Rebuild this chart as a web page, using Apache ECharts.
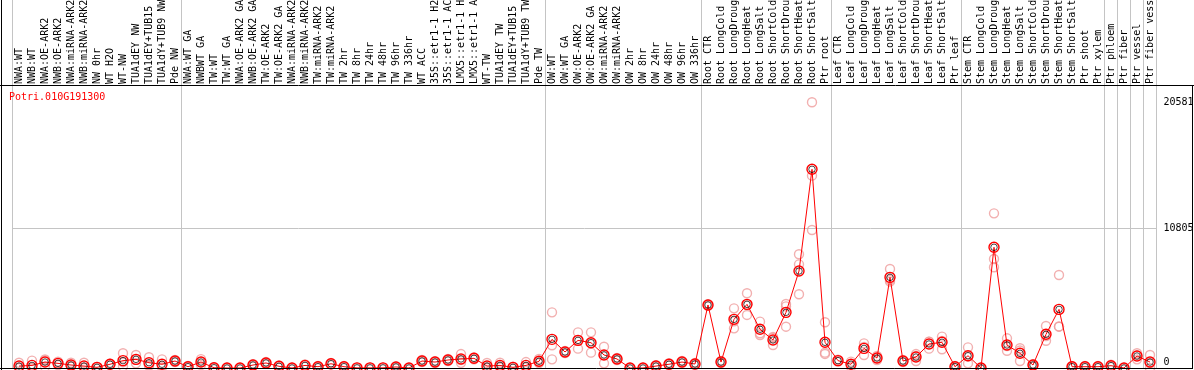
<!DOCTYPE html>
<html>
<head>
<meta charset="utf-8">
<script src="https://cdn.jsdelivr.net/npm/echarts@6/dist/echarts.min.js"></script>
<style>
  html, body { margin: 0; padding: 0; background: #fff; }
  #chart { width: 1194px; height: 370px; }
</style>
</head>
<body>
<div id="chart"></div>
<script>
// ---------------------------------------------------------------------------
// Potri.010G191300 - expression profile (mean + replicates)
// ---------------------------------------------------------------------------
const geneName = "Potri.010G191300";

const categories = [
  // group 1
  "NWA:WT", "NWB:WT", "NWA:OE-ARK2", "NWB:OE-ARK2", "NWA:miRNA-ARK2", "NWB:miRNA-ARK2",
  "NW 0hr", "WT H2O", "WT-NW", "TUA1dEY NW", "TUA1dEY+TUB15 NW", "TUA1dY+TUB9 NW", "Pde NW",
  // group 2
  "NWA:WT GA", "NWBWT GA", "TW:WT", "TW:WT GA", "NWA:OE-ARK2 GA", "NWB:OE-ARK2 GA",
  "TW:OE-ARK2", "TW:OE-ARK2 GA", "NWA:miRNA-ARK2 GA", "NWB:miRNA-ARK2 GA", "TW:miRNA-ARK2",
  "TW:miRNA-ARK2", "TW 2hr", "TW 8hr", "TW 24hr", "TW 48hr", "TW 96hr", "TW 336hr", "WT ACC",
  "35S::etr1-1 H2O", "35S::etr1-1 ACC", "LMX5::etr1-1 H2O", "LMX5::etr1-1 ACC", "WT-TW",
  "TUA1dEY TW", "TUA1dEY+TUB15 TW", "TUA1dY+TUB9 TW", "Pde TW",
  // group 3
  "OW:WT", "OW:WT GA", "OW:OE-ARK2", "OW:OE-ARK2 GA", "OW:miRNA-ARK2", "OW:miRNA-ARK2",
  "OW 2hr", "OW 8hr", "OW 24hr", "OW 48hr", "OW 96hr", "OW 336hr",
  // group 4
  "Root CTR", "Root LongCold", "Root LongDrought", "Root LongHeat", "Root LongSalt",
  "Root ShortCold", "Root ShortDrought", "Root ShortHeat", "Root ShortSalt", "Ptr root",
  // group 5
  "Leaf CTR", "Leaf LongCold", "Leaf LongDrought", "Leaf LongHeat", "Leaf LongSalt",
  "Leaf ShortCold", "Leaf ShortDrought", "Leaf ShortHeat", "Leaf ShortSalt", "Ptr leaf",
  // group 6
  "Stem CTR", "Stem LongCold", "Stem LongDrought", "Stem LongHeat", "Stem LongSalt",
  "Stem ShortCold", "Stem ShortDrought", "Stem ShortHeat", "Stem ShortSalt", "Ptr shoot", "Ptr xylem",
  // single tissues
  "Ptr phloem", "Ptr fiber", "Ptr vessel", "Ptr fiber vessel"
];

// index of the first category of each group (separator lines)
const groupStarts = [0, 13, 41, 53, 63, 73, 84, 85, 86, 87];

const meanValues = [
  150, 200, 460, 360, 230, 150, 50, 290, 570, 670, 410, 290, 540,
  100, 460, 20, 0, 0, 230, 390, 130, 0, 200, 100, 330, 100, 10, 10, 10, 80, 0,
  540, 460, 620, 700, 750, 150, 200, 50, 200, 520,
  2220, 1240, 2140, 1960, 1010, 700, 0, 0, 150, 290, 460, 310,
  4880, 460, 3770, 4930, 3000, 2170, 4310, 7510, 15390, 1990,
  570, 290, 1520, 770, 7020, 540, 850, 1860, 1990, 100,
  950, 0, 9350, 1780, 1140, 230, 2610, 4540, 100, 100, 100,
  180, 0, 930, 460
];

const rep1 = [
  410, 570, 670, 490, 410, 410, 80, 330, 1140, 1010, 830, 670, 620,
  150, 690, 40, 10, 10, 300, 460, 200, 10, 270, 150, 400, 150, 20, 20, 20, 120, 0,
  620, 530, 700, 1080, 820, 390, 410, 100, 460, 700,
  4310, 1330, 2760, 2760, 1650, 780, 10, 10, 220, 380, 540, 390,
  4950, 540, 4620, 5790, 3590, 2400, 4960, 8810, 20581, 3540,
  640, 490, 1910, 930, 7670, 620, 1080, 2040, 2430, 150,
  1600, 10, 11980, 2300, 1530, 300, 3250, 7200, 150, 150, 150,
  250, 10, 1140, 1010
];

const rep2 = [
  40, 30, 600, 360, 170, 40, 50, 290, 450, 640, 230, 150, 540,
  100, 460, 20, 0, 0, 230, 390, 130, 0, 200, 100, 330, 100, 10, 10, 10, 80, 0,
  540, 460, 620, 620, 750, 60, 150, 50, 100, 480,
  1760, 1240, 2160, 1930, 1020, 700, 0, 0, 150, 290, 460, 310,
  4880, 460, 3620, 4890, 2690, 2330, 4770, 8030, 14900, 1190,
  570, 290, 1640, 760, 6820, 540, 930, 2040, 2090, 100,
  890, 0, 8440, 1700, 1350, 230, 2470, 3220, 100, 100, 100,
  180, 0, 980, 370
];

const rep3 = [
  0, 0, 100, 230, 110, 0, 20, 250, 120, 360, 170, 50, 460,
  50, 230, 0, 0, 0, 160, 320, 60, 0, 130, 50, 260, 50, 0, 0, 0, 40, 0,
  460, 390, 540, 400, 680, 0, 40, 0, 40, 380,
  670, 1150, 1500, 1190, 360, 620, 0, 0, 80, 200, 380, 230,
  4810, 380, 3070, 4110, 2560, 1780, 3200, 5710, 10690, 1090,
  500, 90, 1010, 620, 6690, 460, 540, 1500, 1450, 50,
  360, 0, 7800, 1340, 540, 160, 2110, 3200, 50, 50, 50,
  110, 0, 670, 0
];

const yLabelValues = [0, 10805, 20581];
const yGridValues = [0, 10805];

const FONT = "DejaVu Sans Mono";
const GROUP_LINE = "#c4c4c4";
const CLEAR = "rgba(0,0,0,0)";

const isGroupStart = (index) => groupStarts.indexOf(index) >= 0;

// hollow rings: transparent fill so the line stays visible through them
function ringSeries(values, size, stroke, width, z) {
  return {
    type: "scatter",
    xAxisIndex: 0,
    yAxisIndex: 0,
    data: values,
    symbol: "circle",
    symbolSize: size,
    silent: true,
    z: z,
    itemStyle: { color: CLEAR, borderColor: stroke, borderWidth: width }
  };
}

const chart = echarts.init(document.getElementById("chart"), null, { renderer: "canvas" });

chart.setOption({
  animation: false,
  backgroundColor: "#fff",
  title: {
    text: geneName,
    left: 9,
    top: 92,
    padding: 0,
    textStyle: { color: "#ff0000", fontFamily: FONT, fontSize: 10, fontWeight: "normal" }
  },
  grid: [
    { left: 12.5, right: 37.5, top: 86, bottom: 2, outerBoundsMode: "none", containLabel: false },
    { left: 12.5, right: 37.5, top: 0, height: 86, outerBoundsMode: "none", containLabel: false }
  ],
  xAxis: [
    {
      type: "category",
      gridIndex: 0,
      position: "top",
      data: categories,
      boundaryGap: true,
      axisLine: { show: false },
      axisTick: { show: false },
      axisLabel: {
        interval: 0,
        rotate: 90,
        margin: 2,
        align: "left",
        verticalAlign: "middle",
        color: "#000",
        fontFamily: FONT,
        fontSize: 10
      },
      splitLine: {
        show: true,
        interval: (index) => isGroupStart(index),
        lineStyle: { color: GROUP_LINE, width: 1 }
      }
    },
    {
      type: "category",
      gridIndex: 1,
      data: categories,
      boundaryGap: true,
      axisLine: { show: false },
      axisTick: { show: false },
      axisLabel: { show: false },
      splitLine: {
        show: true,
        interval: (index) => isGroupStart(index),
        lineStyle: { color: GROUP_LINE, width: 1 }
      }
    }
  ],
  yAxis: [
    {
      type: "value",
      gridIndex: 0,
      position: "right",
      min: 0,
      max: 21843,
      axisLine: { show: false },
      axisTick: { show: false, customValues: yGridValues },
      axisLabel: {
        customValues: yLabelValues,
        margin: 7,
        color: "#000",
        fontFamily: FONT,
        fontSize: 10,
        formatter: (v) => (v === 0 ? "{zero|0}" : String(v)),
        rich: { zero: { fontFamily: FONT, fontSize: 10, color: "#000", padding: [0, 0, 12, 0] } }
      },
      splitLine: { show: true, lineStyle: { color: GROUP_LINE, width: 1 } }
    },
    {
      type: "value",
      gridIndex: 1,
      show: false,
      splitLine: { show: false }
    }
  ],
  series: [
    ringSeries(rep1, 9, "#ef9c9c", 1.4, 2),
    ringSeries(rep2, 9, "#ef9c9c", 1.4, 2),
    ringSeries(rep3, 9, "#ef9c9c", 1.4, 2),
    {
      type: "line",
      xAxisIndex: 0,
      yAxisIndex: 0,
      data: meanValues,
      symbol: "circle",
      symbolSize: 10,
      showAllSymbol: true,
      silent: true,
      z: 5,
      lineStyle: { color: "#ff0000", width: 1 },
      itemStyle: { color: CLEAR, borderColor: "#ff0000", borderWidth: 1.4 }
    },
    ringSeries(meanValues, 6.5, "#000", 0.9, 6)
  ],
  // plot frame
  graphic: [
    { type: "line", z: 100, shape: { x1: 0, y1: 85.5, x2: 1194, y2: 85.5 }, style: { stroke: "#000", lineWidth: 1 } },
    { type: "line", z: 100, shape: { x1: 1.5, y1: 0, x2: 1.5, y2: 370 }, style: { stroke: "#000", lineWidth: 1 } },
    { type: "line", z: 100, shape: { x1: 0, y1: 368.5, x2: 1193, y2: 368.5 }, style: { stroke: "#000", lineWidth: 1 } },
    { type: "line", z: 100, shape: { x1: 1192.5, y1: 85.5, x2: 1192.5, y2: 369 }, style: { stroke: "#000", lineWidth: 1 } }
  ]
});
</script>
</body>
</html>
